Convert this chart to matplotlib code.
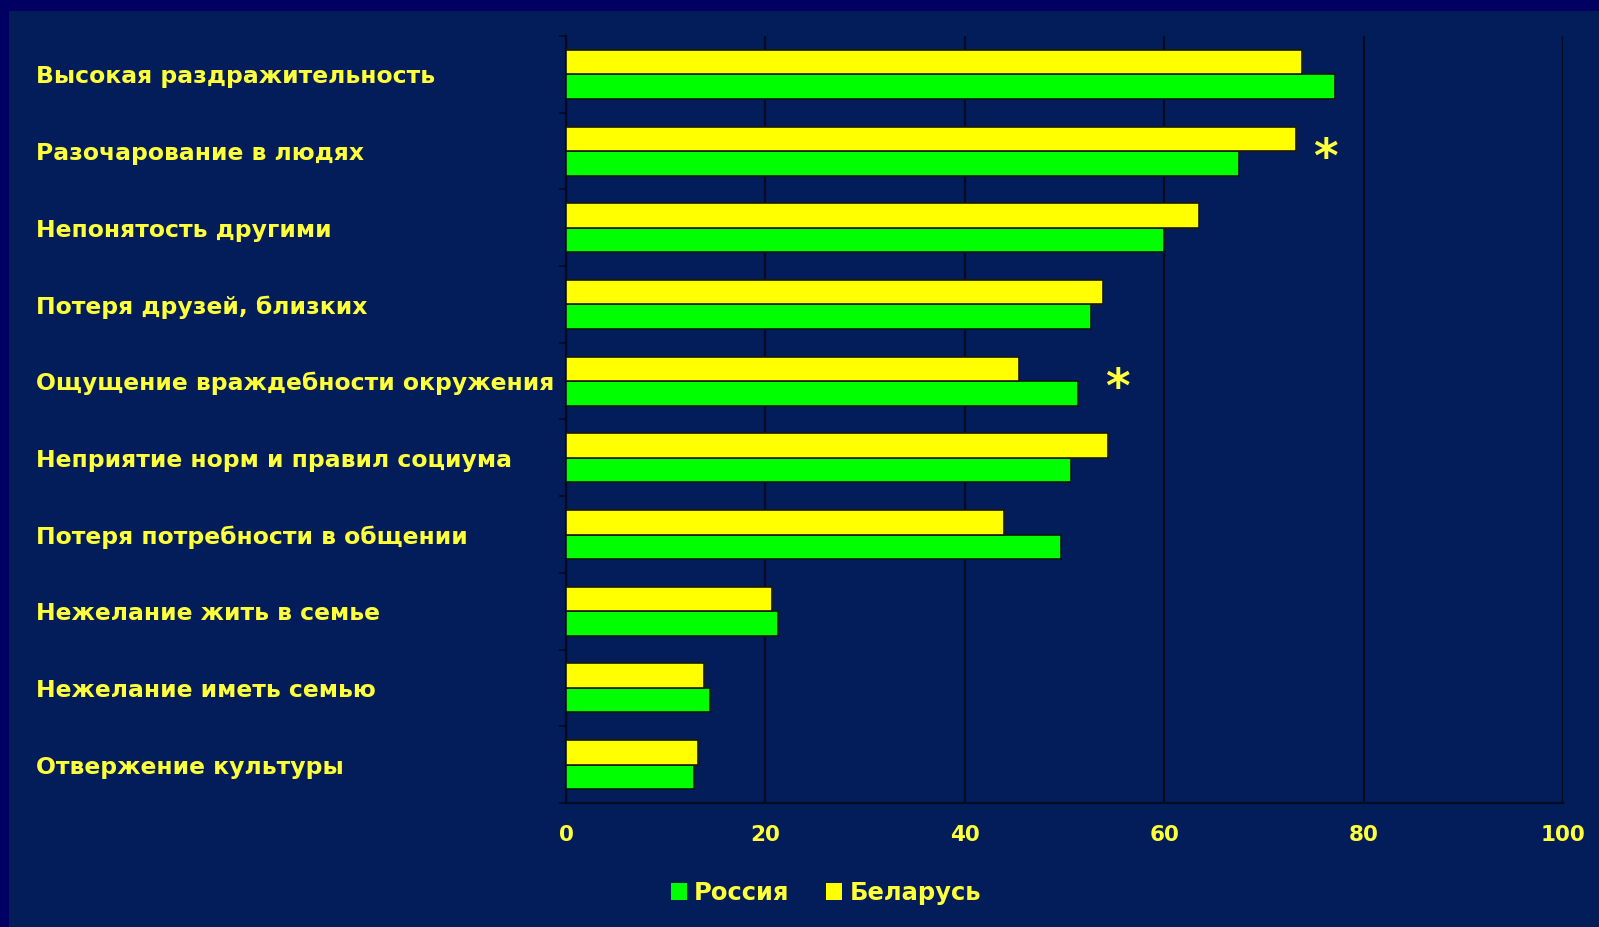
import matplotlib
matplotlib.use("Agg")
import matplotlib.pyplot as plt
from matplotlib.patches import Rectangle
from matplotlib.ticker import FixedLocator
import numpy as np

categories = [
    "Высокая раздражительность",
    "Разочарование в людях",
    "Непонятость другими",
    "Потеря друзей, близких",
    "Ощущение враждебности окружения",
    "Неприятие норм и правил социума",
    "Потеря потребности в общении",
    "Нежелание жить в семье",
    "Нежелание иметь семью",
    "Отвержение культуры",
]
russia = [77.1, 67.5, 60.0, 52.7, 51.4, 50.7, 49.6, 21.3, 14.4, 12.8]
belarus = [73.8, 73.2, 63.5, 53.9, 45.4, 54.4, 43.9, 20.7, 13.8, 13.2]
series_names = ["Россия", "Беларусь"]
xticks = [0, 20, 40, 60, 80, 100]
# significance markers: (category index, x position)
star_cats = [1, 4]
star_x = [76.2, 55.3]

BG = "#021d5a"
BORDER = "#000062"
TXT = "#ffff3a"
GREEN = "#00ff00"
YELLOW = "#ffff00"
DARK = "#000a22"

W, H = 1599, 927
fig = plt.figure(figsize=(W / 100, H / 100), dpi=100, facecolor=BORDER)
fig.patches.append(Rectangle((9 / W, 0), 1, 1 - 11 / H, transform=fig.transFigure,
                             facecolor=BG, edgecolor="none", zorder=-10))

ax = fig.add_axes([566 / W, 1 - 803 / H, (1563 - 566) / W, (803 - 36) / H])
ax.set_facecolor(BG)

y = np.arange(len(categories))
h = 0.32
ax.barh(y + h / 2, russia, height=h, color=GREEN, edgecolor="#0b1a10", linewidth=1.2,
        label=series_names[0], zorder=3)
ax.barh(y - h / 2, belarus, height=h, color=YELLOW, edgecolor="#1a1a05", linewidth=1.2,
        label=series_names[1], zorder=3)

ax.set_xlim(0, 100)
ax.set_ylim(len(categories) - 0.5, -0.5)
ax.set_xticks(xticks)
ax.set_xticklabels([str(t) for t in xticks])
ax.xaxis.grid(True, color=DARK, linewidth=1.6, zorder=1)
ax.set_axisbelow(True)

for s in ["top", "right"]:
    ax.spines[s].set_visible(False)
for s in ["left", "bottom"]:
    ax.spines[s].set_color(DARK)
    ax.spines[s].set_linewidth(1.6)

ax.tick_params(axis="x", length=0, pad=16, labelsize=15.5, labelcolor=TXT)
for lab in ax.get_xticklabels():
    lab.set_fontweight("bold")

ax.set_yticks(y)
ax.set_yticklabels(categories)
ax.yaxis.set_minor_locator(FixedLocator(np.arange(-0.5, len(categories), 1.0)))
ax.tick_params(axis="y", which="major", length=0, pad=(566 - 36) * 0.72,
               labelsize=16.9, labelcolor=TXT)
ax.tick_params(axis="y", which="minor", length=5, width=1.2, color=DARK)
for lab in ax.get_yticklabels():
    lab.set_horizontalalignment("left")
    lab.set_fontweight("bold")

for ci, sx in zip(star_cats, star_x):
    ax.text(sx, ci + 0.11, "*", color=TXT, fontsize=34, fontweight="bold",
            ha="center", va="center", zorder=4)

leg = fig.legend(loc="center", bbox_to_anchor=(826 / W, 1 - 893 / H), ncol=2,
                 frameon=False, handlelength=0.65, handleheight=0.65,
                 handletextpad=0.3, columnspacing=1.5,
                 prop={"weight": "bold", "size": 17.5})
for t in leg.get_texts():
    t.set_color(TXT)
for p in leg.get_patches():
    p.set_edgecolor("none")

fig.savefig("out.png", dpi=100, facecolor=fig.get_facecolor())
